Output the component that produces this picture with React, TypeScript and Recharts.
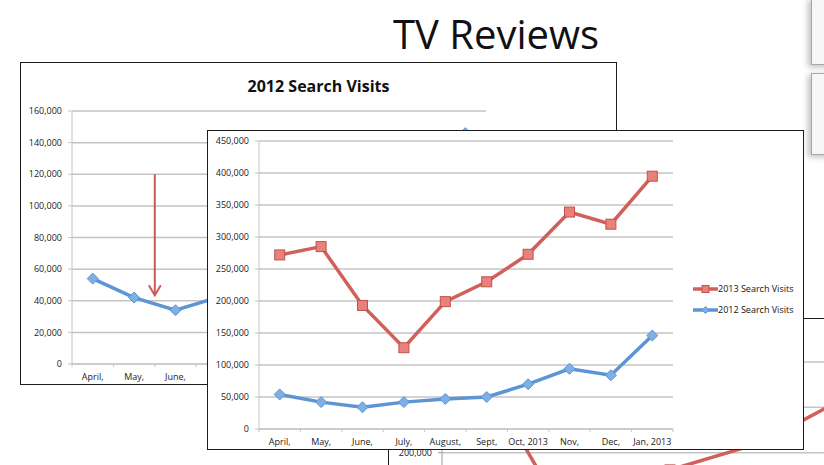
import React from 'react';
import { LineChart, Line, XAxis, YAxis, CartesianGrid, Legend, ReferenceLine } from 'recharts';

// values
const months = ['April,', 'May,', 'June,', 'July,', 'August,', 'Sept,', 'Oct, 2013', 'Nov,', 'Dec,', 'Jan, 2013'];
const visits2013 = [272000, 285000, 193000, 127000, 199000, 230000, 273000, 339000, 320000, 395000];
const visits2012 = [54000, 42000, 34000, 42000, 47000, 50000, 70000, 94000, 84000, 146000];
const mainTicks = [0, 50000, 100000, 150000, 200000, 250000, 300000, 350000, 400000, 450000];
const backTicks = [0, 20000, 40000, 60000, 80000, 100000, 120000, 140000, 160000];

// chart peeking out at bottom right, mostly covered
const partCats = ['June,', 'July,', 'August,', 'Sept,', 'Oct,'];
const partVisits = [277000, 104000, 181000, 211000, 265000];
const partTicks = [200000, 250000, 300000];

const seriesNames = ['2013 Search Visits', '2012 Search Visits'];

const RED = '#d1605a';
const BLUE = '#5c94d4';
const GRID = '#c4c4c4';
const LABEL_GAP = 10;

const mainData = months.map((m, i) => ({ month: m, v2013: visits2013[i], v2012: visits2012[i] }));
const backData = months.map((m, i) => ({ month: m, v2012: visits2012[i] }));
const partData = partCats.map((m, i) => ({ month: m, v2013: partVisits[i] }));

const fmt = (v: number) => v.toLocaleString('en-US');
const tickStyle = { fontSize: 9, fill: '#1a1a1a' };

// category label plus Excel style tick marks on the band edges
const BandTick = (props: any) => {
  const { x, y, payload } = props;
  const half = payload.offset || 0;
  const y0 = y - LABEL_GAP;
  const last = payload.value === months[months.length - 1];
  return (
    <g>
      <line x1={x - half} y1={y0} x2={x - half} y2={y0 + 3} stroke={GRID} strokeWidth={1} />
      {last && <line x1={x + half} y1={y0} x2={x + half} y2={y0 + 3} stroke={GRID} strokeWidth={1} />}
      <text x={x} y={y} dy="0.71em" textAnchor="middle" fontSize={9} fill="#1a1a1a">
        {payload.value}
      </text>
    </g>
  );
};

const SquareDot = (props: any) => {
  const { cx, cy, index } = props;
  if (cx == null || cy == null) return <g key={index} />;
  return <rect key={index} x={cx - 5} y={cy - 5} width={10} height={10} fill="#e8817b" stroke="#c4504b" strokeWidth={1} />;
};

const DiamondDot = (props: any) => {
  const { cx, cy, index } = props;
  if (cx == null || cy == null) return <g key={index} />;
  return (
    <path
      key={index}
      d={`M${cx},${cy - 5.5}L${cx + 5.5},${cy}L${cx},${cy + 5.5}L${cx - 5.5},${cy}Z`}
      fill="#7eb0e6"
      stroke={BLUE}
      strokeWidth={1}
    />
  );
};

const LegendContent = ({ payload }: any) => {
  const items = seriesNames.map((n) => (payload || []).find((p: any) => p.value === n)).filter(Boolean);
  return (
    <div style={{ fontSize: 9, color: '#111' }}>
      {items.map((entry: any) => (
        <div key={entry.value} style={{ display: 'flex', alignItems: 'center', height: 21 }}>
          <svg width={25} height={12} style={{ display: 'block' }}>
            <line x1={0} y1={6} x2={25} y2={6} stroke={entry.color} strokeWidth={3.5} />
            {entry.value === seriesNames[0] ? (
              <rect x={9} y={2.5} width={7} height={7} fill="#e8817b" stroke="#c4504b" strokeWidth={1} />
            ) : (
              <path d="M12.5,2.5L16,6L12.5,9.5L9,6Z" fill="#7eb0e6" stroke={BLUE} strokeWidth={1} />
            )}
          </svg>
          <span>{entry.value}</span>
        </div>
      ))}
    </div>
  );
};

const DownArrow = (props: any) => {
  const { x1, y1, x2, y2 } = props;
  return (
    <g stroke="#cd5a55" strokeWidth={2} fill="none">
      <line x1={x1} y1={y1} x2={x2} y2={y2} />
      <polyline points={`${x2 - 6},${y2 - 10} ${x2},${y2} ${x2 + 6},${y2 - 10}`} />
    </g>
  );
};

const box = (left: number, top: number, w: number, h: number, z: number): React.CSSProperties => ({
  position: 'absolute',
  left,
  top,
  width: w,
  height: h,
  border: '1px solid #1c1c1c',
  background: '#fff',
  boxSizing: 'content-box',
  zIndex: z,
});

export default function App() {
  return (
    <div
      style={{
        position: 'absolute',
        left: 0,
        top: 0,
        width: 824,
        height: 465,
        overflow: 'hidden',
        background: '#fff',
        fontFamily: '"Open Sans", sans-serif',
      }}
    >
      {/* slide title */}
      <div style={{ position: 'absolute', left: 393, top: 14, fontSize: 40, lineHeight: 1, color: '#111', zIndex: 5 }}>
        TV Reviews
      </div>

      {/* thumbnails on the right */}
      <div style={{ position: 'absolute', left: 811, top: -2, width: 40, height: 65, background: '#f6f6f6', border: '1px solid #a8a8a8', boxShadow: '-3px 2px 6px rgba(0,0,0,0.25)' }} />
      <div style={{ position: 'absolute', left: 811, top: 73, width: 40, height: 80, background: '#f6f6f6', border: '1px solid #a8a8a8', boxShadow: '-3px 2px 6px rgba(0,0,0,0.25)' }} />

      {/* back chart: 2012 Search Visits */}
      <div style={box(20, 62, 595, 321, 1)}>
        <div style={{ position: 'absolute', left: 0, top: 13, width: '100%', textAlign: 'center', fontSize: 16, fontWeight: 700, lineHeight: '20px', color: '#111' }}>
          2012 Search Visits
        </div>
        <LineChart width={595} height={321} data={backData} margin={{ top: 48, right: 130, bottom: 0, left: 0 }}>
          <CartesianGrid vertical={false} stroke={GRID} strokeWidth={1.5} />
          <XAxis dataKey="month" scale="band" height={20} stroke={GRID} tickLine={false} tickSize={0} tickMargin={LABEL_GAP} interval={0} tick={BandTick} />
          <YAxis width={51} domain={[0, 160000]} ticks={backTicks} tickFormatter={fmt} tick={tickStyle} tickSize={4} tickMargin={6} stroke={GRID} />
          <ReferenceLine
            position="start"
            segment={[{ x: months[2], y: 120000 }, { x: months[2], y: 43500 }]}
            shape={DownArrow}
          />
          <Line dataKey="v2012" stroke={BLUE} strokeWidth={3.5} dot={DiamondDot} isAnimationActive={false} />
        </LineChart>
      </div>

      {/* chart behind, bottom right */}
      <div style={box(388, 318, 639, 315, 2)}>
        <LineChart width={639} height={315} data={partData} margin={{ top: 43, right: 130, bottom: 0, left: 0 }}>
          <CartesianGrid vertical={false} stroke={GRID} strokeWidth={1.5} />
          <XAxis dataKey="month" scale="band" height={20} hide />
          <YAxis width={53} domain={[0, 300000]} ticks={partTicks} tickFormatter={fmt} tick={tickStyle} tickSize={4} tickMargin={6} stroke="#9a9a9a" />
          <Line dataKey="v2013" stroke={RED} strokeWidth={3.5} dot={SquareDot} isAnimationActive={false} />
        </LineChart>
      </div>

      {/* front chart */}
      <div style={box(207, 130, 595, 318, 3)}>
        <LineChart width={595} height={318} data={mainData} margin={{ top: 10, right: 130, bottom: 0, left: 0 }}>
          <CartesianGrid vertical={false} stroke={GRID} strokeWidth={1.5} />
          <XAxis dataKey="month" scale="band" height={20} stroke={GRID} tickLine={false} tickSize={0} tickMargin={LABEL_GAP} interval={0} tick={BandTick} />
          <YAxis width={51} domain={[0, 450000]} ticks={mainTicks} tickFormatter={fmt} tick={tickStyle} tickSize={4} tickMargin={6} stroke={GRID} />
          <Legend
            layout="vertical"
            align="center"
            verticalAlign="middle"
            content={LegendContent}
            wrapperStyle={{ left: 485, top: 147, width: 'auto' }}
          />
          <Line name={seriesNames[0]} dataKey="v2013" stroke={RED} strokeWidth={3.5} dot={SquareDot} isAnimationActive={false} />
          <Line name={seriesNames[1]} dataKey="v2012" stroke={BLUE} strokeWidth={3.5} dot={DiamondDot} isAnimationActive={false} />
        </LineChart>
      </div>
    </div>
  );
}
